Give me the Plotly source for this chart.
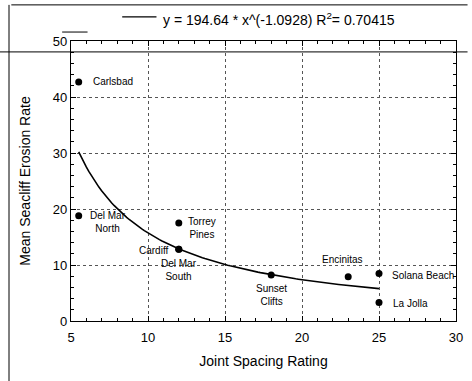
import numpy as np
import plotly.graph_objects as go

# Site observations: joint spacing rating vs mean seacliff erosion rate
sites = ["Carlsbad", "Del Mar North", "Torrey Pines", "Cardiff", "Del Mar South",
         "Sunset Clifts", "Encinitas", "Solana Beach", "La Jolla"]
spacing = [5.5, 5.5, 12, 12, 12, 18, 23, 25, 25]
erosion = [42.7, 18.8, 17.5, 12.8, 12.8, 8.2, 7.9, 8.5, 3.3]

# Power-law fit y = a * x^b
fit_a = 194.64
fit_b = -1.0928
fit_r2 = 0.70415
fit_x = np.linspace(5.5, 25, 120)
fit_y = fit_a * fit_x ** fit_b

# Label placement per site: (text, anchor, xshift, yshift)
label_style = [
    ("Carlsbad", "left", 12, 0),
    ("Del Mar<br>North", "left", 9, -6),
    ("Torrey<br>Pines", "left", 7, -5),
    ("Cardiff", "right", -9, -1),
    ("Del Mar<br>South", "center", 0, -21),
    ("Sunset<br>Clifts", "center", 0, -20),
    ("Encinitas", "center", -6, 17),
    ("Solana Beach", "left", 11, -2),
    ("La Jolla", "left", 12, -1),
]

font = "Liberation Sans, Arial, sans-serif"

fig = go.Figure()
fig.add_trace(go.Scatter(
    x=fit_x, y=fit_y, mode="lines",
    line=dict(color="black", width=1.6), hoverinfo="skip", showlegend=False))
fig.add_trace(go.Scatter(
    x=spacing, y=erosion, mode="markers",
    marker=dict(color="black", size=7),
    text=sites, showlegend=False))

for xv, yv, (txt, anchor, dx, dy) in zip(spacing, erosion, label_style):
    fig.add_annotation(x=xv, y=yv, text=txt, showarrow=False,
                       xanchor=anchor, yanchor="middle", align="center",
                       xshift=dx, yshift=dy,
                       font=dict(family=font, size=10, color="black"))

axis_common = dict(
    showline=True, linecolor="black", linewidth=1.3, mirror="ticks",
    ticks="inside", ticklen=5, tickcolor="black",
    showgrid=True, gridcolor="#555555", griddash="dot", gridwidth=0.8,
    zeroline=False,
    tickfont=dict(family=font, size=13, color="black"),
    minor=dict(ticks="inside", ticklen=3, tickcolor="black", showgrid=False),
)

title_font = dict(family=font, size=14, color="black")
fig.update_xaxes(range=[5, 30], dtick=5, minor_dtick=1, ticklabelstandoff=4,
                 title=dict(text="Joint Spacing Rating", font=title_font, standoff=12),
                 **axis_common)
fig.update_yaxes(range=[0, 50], dtick=10, minor_dtick=2,
                 title=dict(text="Mean Seacliff Erosion Rate", font=title_font, standoff=18),
                 **axis_common)

# Legend row above the plot: line sample and fit equation
fig.add_shape(type="line", xref="paper", yref="paper",
              x0=0.133, x1=0.222, y0=1.086, y1=1.086, line=dict(color="black", width=1.3))
fig.add_annotation(xref="paper", yref="paper", x=0.235, y=1.077, xanchor="left", yanchor="middle",
                   text=f"y = {fit_a} * x^({fit_b}) R<sup>2</sup>= {fit_r2}",
                   showarrow=False, font=dict(family=font, size=14, color="black"))

# Outer frame lines around the figure
frame = dict(color="black", width=1)
fig.add_shape(type="line", xref="paper", yref="paper", x0=-0.155, x1=1.03, y0=1.129, y1=1.129, line=frame)
fig.add_shape(type="line", xref="paper", yref="paper", x0=-0.19, x1=1.03, y0=0.961, y1=0.961, line=frame)
fig.add_shape(type="line", xref="paper", yref="paper", x0=-0.023, x1=0.043, y0=1.032, y1=1.032, line=frame)
fig.add_shape(type="line", xref="paper", yref="paper", x0=-0.161, x1=-0.161, y0=-0.22, y1=1.129, line=frame)

fig.update_layout(
    width=472, height=381,
    margin=dict(l=71, r=9, t=41, b=60),
    paper_bgcolor="white", plot_bgcolor="white",
    font=dict(family=font, color="black"),
)

fig.write_html("out.html")
